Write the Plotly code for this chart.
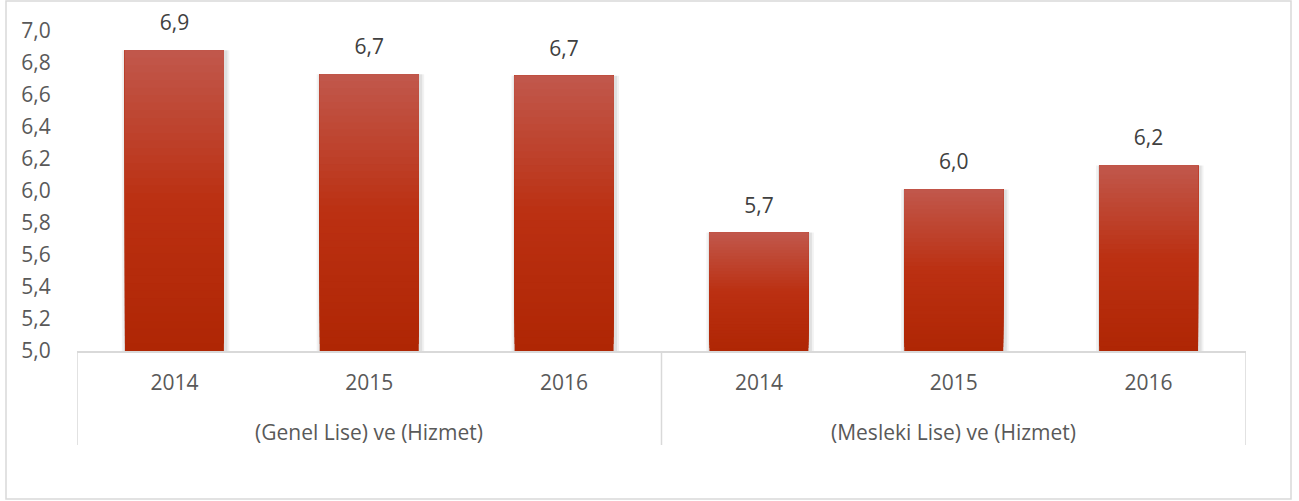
import plotly.graph_objects as go

# Data
groups = ["(Genel Lise) ve (Hizmet)", "(Mesleki Lise) ve (Hizmet)"]
years = ["2014", "2015", "2016", "2014", "2015", "2016"]
group_of_bar = [0, 0, 0, 1, 1, 1]
values = [6.88, 6.73, 6.72, 5.74, 6.01, 6.16]

y_min, y_max = 5.0, 7.0
x_pos = list(range(len(values)))

top_rgb = (193, 88, 76)
mid_rgb = (187, 48, 18)
bot_rgb = (175, 38, 4)

TEXT = "#595959"
GRID = "#d9d9d9"
FONT = "Open Sans"
FS = 21

def lerp(a, b, t):
    return tuple(round(a[i] + (b[i] - a[i]) * t) for i in range(3))

def grad_color(t):
    # t = 0 at bar bottom, 1 at bar top
    if t < 0.5:
        c = lerp(bot_rgb, mid_rgb, t / 0.5)
    else:
        c = lerp(mid_rgb, top_rgb, (t - 0.5) / 0.5)
    return "rgb(%d,%d,%d)" % c

fig = go.Figure()

# Soft shadow behind each bar
for grow, alpha in [(0.022, 0.05), (0.012, 0.07)]:
    fig.add_trace(go.Bar(
        x=x_pos, y=[v - y_min for v in values], base=y_min,
        width=0.508 + 2 * grow, offset=-0.254 - grow + 0.006,
        marker=dict(color="rgba(0,0,0,%.2f)" % alpha, line=dict(width=0)),
        hoverinfo="skip", showlegend=False,
    ))

# Vertical gradient: each slice runs from its base up to the bar top,
# later (lighter) slices are painted over earlier ones
N = 40
for k in range(N):
    bases = [y_min + (v - y_min) * k / N for v in values]
    heights = [v - b for v, b in zip(values, bases)]
    fig.add_trace(go.Bar(
        x=x_pos, y=heights, base=bases, width=0.508,
        marker=dict(color=grad_color((k + 0.5) / N), line=dict(width=0)),
        hoverinfo="skip", showlegend=False,
    ))

# Value labels above the bars
fig.add_trace(go.Scatter(
    x=x_pos, y=values, mode="markers+text",
    marker=dict(size=22, color="rgba(0,0,0,0)"),
    text=[("%.1f" % v).replace(".", ",") for v in values],
    textposition="top center",
    textfont=dict(family=FONT, size=FS, color="#404040"),
    cliponaxis=False, showlegend=False, hoverinfo="skip",
))

# Group labels and dividers under the category axis
annotations = []
for gi, name in enumerate(groups):
    members = [x for x, g in zip(x_pos, group_of_bar) if g == gi]
    annotations.append(dict(
        x=sum(members) / len(members), xref="x",
        y=(351 - 432) / 320, yref="paper",
        text=name, showarrow=False, yanchor="middle",
        font=dict(family=FONT, size=FS, color=TEXT),
    ))

divider_x = [-0.5] + [x_pos[i] + 0.5 for i in range(len(x_pos))
                      if i == len(x_pos) - 1 or group_of_bar[i] != group_of_bar[i + 1]]
shapes = [dict(
    type="line", xref="x", yref="paper", x0=dx, x1=dx,
    y0=0, y1=(351 - 445) / 320, line=dict(color=GRID, width=1.5),
) for dx in divider_x]

# Outer chart frame
shapes.append(dict(
    type="rect", xref="paper", yref="paper",
    x0=(6 - 77) / 1169, x1=(1291 - 77) / 1169,
    y0=(351 - 499) / 320, y1=(351 - 1) / 320,
    line=dict(color=GRID, width=1.5), fillcolor="rgba(0,0,0,0)",
    layer="below",
))

fig.update_layout(
    width=1299, height=501,
    margin=dict(l=77, r=53, t=31, b=150),
    paper_bgcolor="white", plot_bgcolor="white",
    barmode="overlay",
    separators=",.",
    font=dict(family=FONT, size=FS, color=TEXT),
    showlegend=False,
    xaxis=dict(
        range=[-0.5, len(values) - 0.5],
        tickvals=x_pos, ticktext=years,
        showline=True, linecolor=GRID, linewidth=1.5,
        ticks="outside", ticklen=12, tickcolor="rgba(0,0,0,0)",
        showgrid=False, zeroline=False,
        tickfont=dict(family=FONT, size=FS, color=TEXT),
    ),
    yaxis=dict(
        range=[y_min, y_max], dtick=0.2, tick0=5.0, tickformat=".1f",
        showgrid=False, zeroline=False, showline=False,
        ticks="outside", ticklen=21, tickcolor="rgba(0,0,0,0)",
        tickfont=dict(family=FONT, size=FS, color=TEXT),
    ),
    annotations=annotations,
    shapes=shapes,
)

fig.write_html("out.html")
